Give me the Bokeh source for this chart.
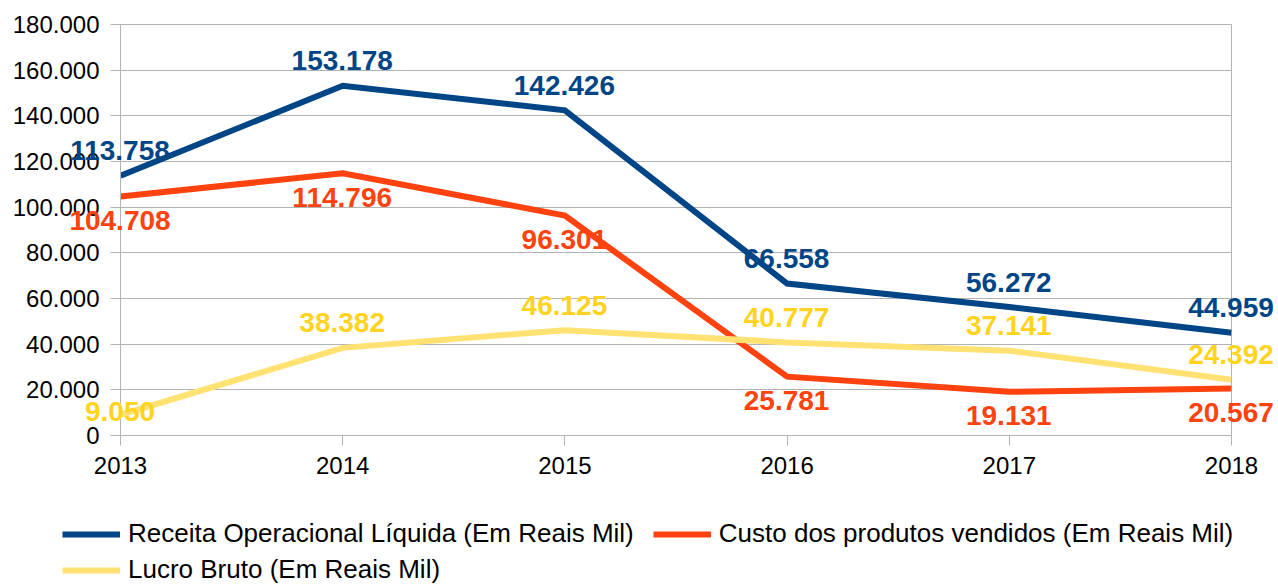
from bokeh.plotting import figure
from bokeh.models import (Range1d, FixedTicker, Legend, LegendItem,
                          ColumnDataSource, HTMLLabelSet)
from bokeh.core.properties import value
from bokeh.embed import file_html
from bokeh.resources import INLINE

years = ["2013", "2014", "2015", "2016", "2017", "2018"]
receita = [113758, 153178, 142426, 66558, 56272, 44959]
custo = [104708, 114796, 96301, 25781, 19131, 20567]
lucro = [9050, 38382, 46125, 40777, 37141, 24392]
series_names = [
    "Receita Operacional Líquida (Em Reais Mil)",
    "Custo dos produtos vendidos (Em Reais Mil)",
    "Lucro Bruto (Em Reais Mil)",
]
y_ticks = list(range(0, 180001, 20000))

# label placement per point (style): above / below / center
place_receita = ["above"] * 6
place_custo = ["below"] * 6
place_lucro = ["center"] + ["above"] * 5

FONT = "Liberation Sans"
BLUE = "#004586"
ORANGE = "#ff420e"
YELLOW_LINE = "#ffe272"
YELLOW_TXT = "#ffd320"
GRID = "#b3b3b3"

xs = list(range(len(years)))
series = [receita, custo, lucro]
styles = [(BLUE, 6), (ORANGE, 6), (YELLOW_LINE, 6)]

p = figure(width=1278, height=495, output_backend="svg", toolbar_location=None,
           x_range=Range1d(0, len(years) - 1), y_range=Range1d(0, 180000),
           min_border_left=120, min_border_right=47, min_border_top=24,
           min_border_bottom=60)
p.outline_line_color = GRID
p.background_fill_color = "white"
p.border_fill_color = "white"

p.xgrid.visible = False
p.ygrid.grid_line_color = GRID
p.ygrid.ticker = FixedTicker(ticks=y_ticks)

p.yaxis.ticker = FixedTicker(ticks=y_ticks)
p.yaxis.major_label_overrides = {t: f"{t:,}".replace(",", ".") for t in y_ticks}
p.xaxis.ticker = FixedTicker(ticks=xs)
p.xaxis.major_label_overrides = {i: y for i, y in enumerate(years)}

for ax in (p.xaxis, p.yaxis):
    ax.axis_line_color = GRID
    ax.major_tick_line_color = GRID
    ax.major_tick_out = 10
    ax.major_tick_in = 0
    ax.minor_tick_line_color = None
    ax.major_label_text_font = FONT
    ax.major_label_text_font_size = "24px"
    ax.major_label_text_color = "black"
p.xaxis.major_label_standoff = 11
p.yaxis.major_label_standoff = 11

for vals, (lc, lw) in zip(series, styles):
    p.line(xs, vals, line_color=lc, line_width=lw, line_join="miter")

# annotation y_offset: positive = up
offs = {"above": 24, "below": -25, "center": 2}
for vals, place, tc in [(lucro, place_lucro, YELLOW_TXT),
                        (custo, place_custo, ORANGE),
                        (receita, place_receita, BLUE)]:
    src = ColumnDataSource(dict(x=xs, y=vals,
                                t=[f"{v:,}".replace(",", ".") for v in vals],
                                dy=[offs[k] for k in place]))
    p.add_layout(HTMLLabelSet(x="x", y="y", text="t", y_offset="dy", source=src,
                              text_align="center", text_baseline="middle",
                              text_font=value(FONT), text_font_size="28px",
                              text_font_style="bold", text_color=tc))

# legend strip below the chart (its own root, full-canvas frame)
p2 = figure(width=1278, height=89, output_backend="svg", toolbar_location=None,
            x_axis_location=None, y_axis_location=None,
            x_range=Range1d(100, 101), y_range=Range1d(0, 1),
            min_border=0, min_border_left=0, min_border_right=0,
            min_border_top=0, min_border_bottom=0)
p2.outline_line_color = None
p2.grid.visible = False
p2.border_fill_color = "white"
leg_r = [p2.line(xs, vals, line_color=lc, line_width=lw)
         for vals, (lc, lw) in zip(series, styles)]

def mk_legend(items, loc):
    lg = Legend(items=items, location=loc, orientation="horizontal",
                spacing=19, padding=0, margin=0,
                border_line_color=None, background_fill_alpha=0,
                glyph_width=58, glyph_height=20, label_standoff=8,
                label_text_font=FONT, label_text_font_size="26px",
                label_text_color="black", label_height=20)
    p2.add_layout(lg, "center")
    return lg

mk_legend([LegendItem(label=series_names[0], renderers=[leg_r[0]]),
           LegendItem(label=series_names[1], renderers=[leg_r[1]])],
          (62, 35))
mk_legend([LegendItem(label=series_names[2], renderers=[leg_r[2]])],
          (62, -1))

open("out.html", "w").write(file_html([p, p2], INLINE))
